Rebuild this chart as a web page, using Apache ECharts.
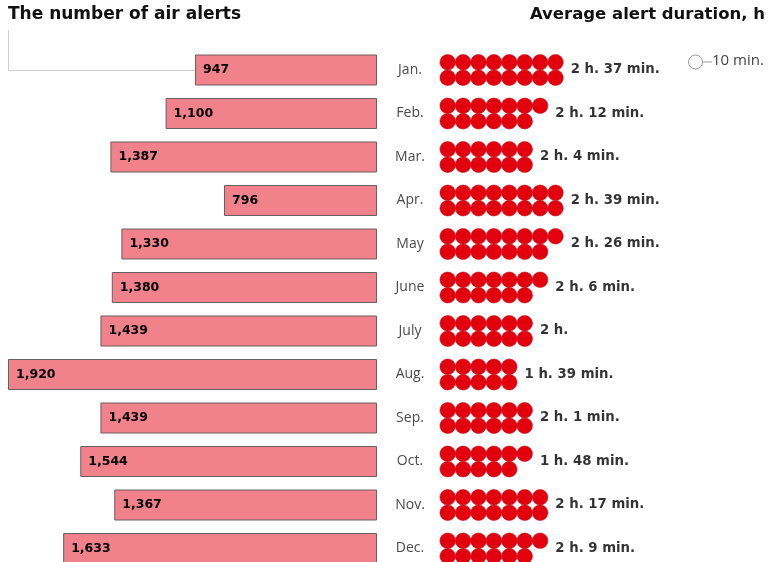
<!DOCTYPE html>
<html>
<head>
<meta charset="utf-8">
<script src="https://cdn.jsdelivr.net/npm/echarts@6/dist/echarts.min.js"></script>
<style>
html,body{margin:0;padding:0;background:#fff;}
#chart{width:769px;height:562px;}
</style>
</head>
<body>
<div id="chart"></div>
<script>
// ---- data ----
var months = ['Jan.', 'Feb.', 'Mar.', 'Apr.', 'May', 'June', 'July', 'Aug.', 'Sep.', 'Oct.', 'Nov.', 'Dec.'];
var alertCounts = [947, 1100, 1387, 796, 1330, 1380, 1439, 1920, 1439, 1544, 1367, 1633];
var durationLabels = ['2 h. 37 min.', '2 h. 12 min.', '2 h. 4 min.', '2 h. 39 min.', '2 h. 26 min.', '2 h. 6 min.',
  '2 h.', '1 h. 39 min.', '2 h. 1 min.', '1 h. 48 min.', '2 h. 17 min.', '2 h. 9 min.'];
var dotsTopRow = [8, 7, 6, 8, 8, 7, 6, 5, 6, 6, 7, 7];      // one dot = 10 min.
var dotsBottomRow = [8, 6, 6, 8, 7, 6, 6, 5, 6, 5, 7, 6];

var FONT = '"Open Sans", "Noto Sans", sans-serif';
var BOLD = '"DejaVu Sans", sans-serif';

// build dot data
var dotData = [];
var labelData = [];
for (var i = 0; i < months.length; i++) {
  for (var k = 0; k < dotsTopRow[i]; k++) dotData.push([k, i - 0.178]);
  for (var k2 = 0; k2 < dotsBottomRow[i]; k2++) dotData.push([k2, i + 0.178]);
  var maxRow = Math.max(dotsTopRow[i], dotsBottomRow[i]);
  labelData.push({ value: [maxRow - 0.5, i], label: { formatter: durationLabels[i] } });
}

var chart = echarts.init(document.getElementById('chart'), null, { renderer: 'canvas' });
var gridTop = 48.25, gridH = 522;
var option = {
  animation: false,
  backgroundColor: '#ffffff',
  grid: [
    { left: 8, width: 369, top: gridTop, height: gridH, outerBoundsMode: 'none', containLabel: false },
    { left: 440, width: 308, top: gridTop, height: gridH, outerBoundsMode: 'none', containLabel: false }
  ],
  xAxis: [
    { gridIndex: 0, type: 'value', min: 0, max: 1920, inverse: true, show: false },
    { gridIndex: 1, type: 'value', min: -0.5, max: 19.5, show: false }
  ],
  yAxis: [
    { gridIndex: 0, type: 'category', data: months, inverse: true, position: 'right',
      axisLine: { show: false }, axisTick: { show: false }, splitLine: { show: false },
      axisLabel: { margin: 33, align: 'center', color: '#4a4a4a', fontSize: 14, fontFamily: FONT } },
    { gridIndex: 1, type: 'value', min: -0.5, max: 11.5, inverse: true, show: false }
  ],
  series: [
    {
      type: 'bar', xAxisIndex: 0, yAxisIndex: 0, data: alertCounts,
      barWidth: 31, clip: false,
      itemStyle: { color: '#f1818a', borderColor: '#6b5f60', borderWidth: 1 },
      label: {
        show: true, position: 'insideLeft', distance: 8,
        formatter: function (p) { return p.value.toLocaleString('en-US'); },
        color: '#000', fontSize: 12.5, fontWeight: 'bold', fontFamily: BOLD
      }
    },
    {
      type: 'scatter', xAxisIndex: 1, yAxisIndex: 1, data: dotData, clip: false,
      symbol: 'circle', symbolSize: 15.6,
      itemStyle: { color: '#e2000f', opacity: 1, borderColor: '#c8000c', borderWidth: 0.5 }
    },
    {
      type: 'scatter', xAxisIndex: 1, yAxisIndex: 1, data: labelData, clip: false,
      symbol: 'circle', symbolSize: 1, itemStyle: { color: 'rgba(0,0,0,0)' },
      label: { show: true, position: 'right', distance: 7, color: '#000', fontSize: 13.3, fontWeight: 'bold', fontFamily: BOLD }
    }
  ]
};
chart.setOption(option);

var janLeft = chart.convertToPixel({ xAxisIndex: 0 }, alertCounts[0]);
var janY = chart.convertToPixel({ yAxisIndex: 0 }, months[0]);
chart.setOption({
  graphic: [
    { type: 'text', left: 8, top: 6, style: { text: 'The number of air alerts', fontSize: 17, fontWeight: 'bold', fill: '#111', fontFamily: BOLD } },
    { type: 'text', right: 4, top: 6, style: { text: 'Average alert duration, h', fontSize: 16.5, fontWeight: 'bold', fill: '#111', fontFamily: BOLD } },
    { type: 'polyline', shape: { points: [[8.5, 30], [8.5, janY + 0.5], [janLeft, janY + 0.5]] }, style: { stroke: '#cfcfcf', lineWidth: 1, fill: null } },
    { type: 'circle', shape: { cx: 695.5, cy: 62, r: 7 }, style: { fill: '#fff', stroke: '#9a9a9a', lineWidth: 1 } },
    { type: 'line', shape: { x1: 702.5, y1: 62, x2: 712, y2: 62 }, style: { stroke: '#9a9a9a', lineWidth: 1 } },
    { type: 'text', left: 712, top: 53, style: { text: '10 min.', fontSize: 15, fill: '#444', fontFamily: FONT } }
  ]
});
</script>
</body>
</html>
